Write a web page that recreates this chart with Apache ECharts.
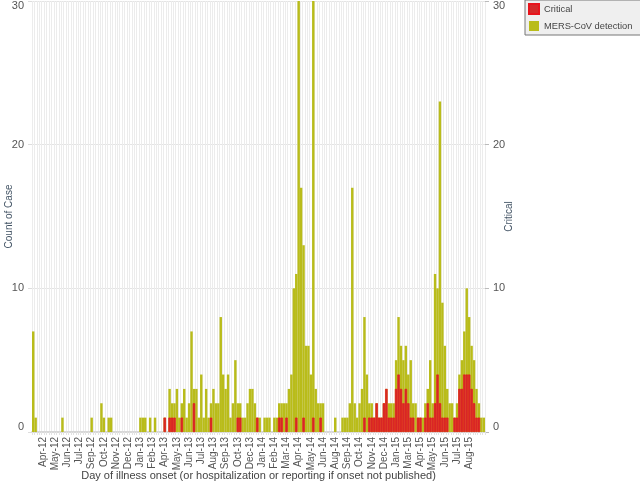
<!DOCTYPE html>
<html>
<head>
<meta charset="utf-8">
<script src="https://cdn.jsdelivr.net/npm/echarts@6/dist/echarts.min.js"></script>
<style>
  html, body { margin: 0; padding: 0; background: #fff; }
  #chart { width: 640px; height: 483px; }
</style>
</head>
<body>
<div id="chart"></div>
<script>
// weekly bins, first week starts 19 Mar 2012
var firstWeek = '2012-03-19';

// MERS-CoV detection, cases per week bin
var detection = [
  7, 1, 0, 0, 0, 0, 0, 0, 0, 0,   0, 0, 1, 0, 0, 0, 0, 0, 0, 0,
  0, 0, 0, 0, 1, 0, 0, 0, 2, 1,   0, 1, 1, 0, 0, 0, 0, 0, 0, 0,
  0, 0, 0, 0, 1, 1, 1, 0, 1, 0,   1, 0, 0, 0, 1, 0, 3, 2, 2, 3,
  1, 2, 3, 1, 2, 7, 3, 3, 1, 4,   1, 3, 1, 2, 3, 2, 2, 8, 4, 3,
  4, 1, 2, 5, 2, 2, 1, 1, 2, 3,   3, 2, 1, 1, 0, 1, 1, 1, 0, 1,
  1, 2, 2, 2, 2, 3, 4, 10, 11, 30, 17, 13, 6, 6, 4, 30, 3, 2, 2, 2,
  0, 0, 0, 0, 1, 0, 0, 1, 1, 1,   2, 17, 2, 1, 2, 3, 8, 4, 2, 2,
  1, 2, 1, 1, 2, 3, 2, 2, 2, 5,   8, 6, 5, 6, 4, 5, 2, 2, 1, 1,
  1, 2, 3, 5, 2, 11, 10, 23, 9, 6, 3, 2, 2, 1, 2, 4, 5, 7, 10, 8,
  6, 5, 3, 2, 1, 1
];

// Critical, cases per week bin
var critical = [
  0, 0, 0, 0, 0, 0, 0, 0, 0, 0,   0, 0, 0, 0, 0, 0, 0, 0, 0, 0,
  0, 0, 0, 0, 0, 0, 0, 0, 0, 0,   0, 0, 0, 0, 0, 0, 0, 0, 0, 0,
  0, 0, 0, 0, 0, 0, 0, 0, 0, 0,   0, 0, 0, 0, 1, 0, 1, 1, 1, 0,
  0, 1, 0, 0, 0, 0, 2, 0, 0, 0,   0, 0, 0, 1, 0, 0, 0, 0, 0, 0,
  0, 0, 0, 0, 1, 1, 0, 0, 0, 0,   0, 0, 1, 0, 0, 0, 0, 0, 0, 0,
  0, 1, 1, 0, 1, 0, 0, 0, 1, 0,   0, 1, 0, 0, 0, 1, 0, 0, 1, 0,
  0, 0, 0, 0, 0, 0, 0, 0, 0, 0,   0, 0, 0, 0, 0, 0, 1, 0, 1, 1,
  1, 2, 1, 1, 2, 3, 1, 1, 1, 3,   4, 3, 2, 3, 2, 1, 1, 0, 1, 1,
  0, 1, 2, 1, 1, 2, 4, 2, 1, 1,   1, 0, 0, 1, 1, 3, 3, 4, 4, 4,
  3, 2, 1, 1, 0, 0
];

var yTicks = [0, 10, 20, 30];
var monthNames = ['Jan','Feb','Mar','Apr','May','Jun','Jul','Aug','Sep','Oct','Nov','Dec'];
var lastLabel = 179; // Aug-15 is the last month label shown

var weeks = [];
var t0 = Date.parse(firstWeek + 'T00:00:00Z');
for (var i = 0; i < detection.length; i++) {
  weeks.push(new Date(t0 + i * 7 * 86400000).toISOString().slice(0, 10));
}

function monthLabel(d) {
  var dt = new Date(d + 'T00:00:00Z');
  return monthNames[dt.getUTCMonth()] + '-' + String(dt.getUTCFullYear()).slice(2);
}

// empty weeks draw nothing
function noZero(v) { return v === 0 ? '-' : v; }

function edgeLabel(v) {
  if (v === yTicks[yTicks.length - 1]) return '{top|' + v + '}';
  if (v === yTicks[0]) return '{bot|' + v + '}';
  return v;
}

var font = "'Liberation Sans', Arial, sans-serif";
var yLabel = {
  fontSize: 11, color: '#555', fontFamily: font, formatter: edgeLabel,
  rich: {
    top: { fontSize: 11, color: '#555', fontFamily: font, padding: [10, 0, 0, 0] },
    bot: { fontSize: 11, color: '#555', fontFamily: font, padding: [0, 0, 10, 0] }
  }
};

var chart = echarts.init(document.getElementById('chart'));
chart.setOption({
  animation: false,
  textStyle: { fontFamily: font },
  grid: { left: 32, right: 155, top: 1, bottom: 51, containLabel: false, outerBoundsMode: 'none' },
  legend: {
    data: ['Critical', 'MERS-CoV detection'],
    orient: 'vertical',
    left: 525, top: 0,
    backgroundColor: '#efefef',
    borderColor: '#777', borderWidth: 1, borderRadius: 0,
    padding: [3, 14, 4, 3],
    itemGap: 6, itemWidth: 10, itemHeight: 10,
    icon: 'rect',
    textStyle: { fontSize: 9.3, color: '#444', fontFamily: font }
  },
  xAxis: {
    type: 'category',
    data: weeks,
    name: 'Day of illness onset (or hospitalization or reporting if onset not published)',
    nameLocation: 'middle',
    nameGap: 38,
    nameMoveOverlap: false,
    nameTextStyle: { fontSize: 11, color: '#444' },
    axisLine: { lineStyle: { color: '#d8d8d8', width: 2 } },
    axisTick: { show: true, interval: 0, length: 3, lineStyle: { color: '#e2e2e2' } },
    splitLine: { show: true, interval: 0, lineStyle: { color: '#ececec', width: 1 } },
    axisLabel: {
      rotate: 90, fontSize: 10, color: '#555', margin: 5,
      interval: function (idx) { return idx % 5 === 4 && idx <= lastLabel; },
      formatter: monthLabel
    }
  },
  yAxis: [
    {
      type: 'value', min: 0, max: 30, interval: 10,
      name: 'Count of Case', nameLocation: 'middle', nameGap: 18, nameRotate: 90,
      nameMoveOverlap: false,
      nameTextStyle: { fontSize: 10, color: '#445566' },
      axisLine: { show: false },
      axisTick: { show: true, length: 4, lineStyle: { color: '#ddd' } },
      splitLine: { lineStyle: { color: '#e4e4e4' } },
      axisLabel: yLabel
    },
    {
      type: 'value', min: 0, max: 30, interval: 10,
      name: 'Critical', nameLocation: 'middle', nameGap: 19, nameRotate: 90,
      nameMoveOverlap: false,
      nameTextStyle: { fontSize: 10, color: '#445566' },
      axisLine: { show: false },
      axisTick: { show: true, length: 4, lineStyle: { color: '#bbb' } },
      splitLine: { show: false },
      axisLabel: yLabel
    }
  ],
  series: [
    {
      name: 'MERS-CoV detection',
      type: 'bar',
      yAxisIndex: 0,
      data: detection.map(noZero),
      barGap: '-100%',
      barCategoryGap: '0%',
      itemStyle: { color: '#b9bc1a' }
    },
    {
      name: 'Critical',
      type: 'bar',
      yAxisIndex: 1,
      data: critical.map(noZero),
      barGap: '-100%',
      barCategoryGap: '0%',
      itemStyle: { color: '#d62a2a', borderColor: '#e8141c', borderWidth: 0.6 }
    }
  ]
});
</script>
</body>
</html>
